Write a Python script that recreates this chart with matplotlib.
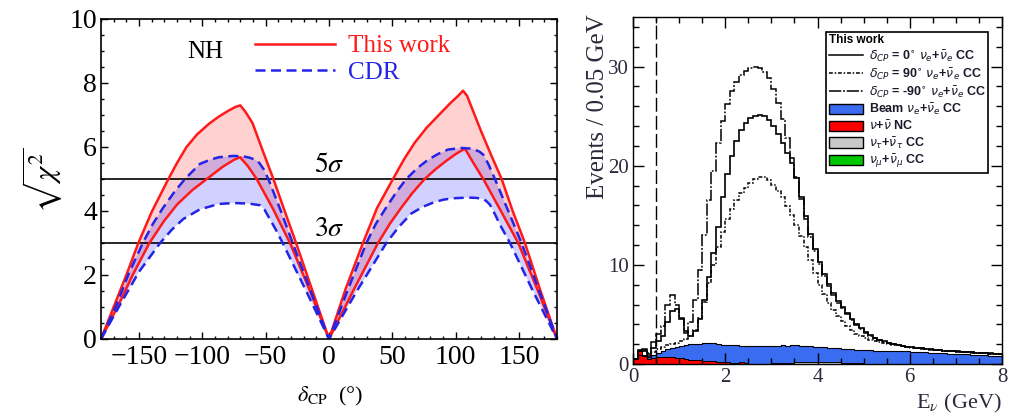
import numpy as np
import matplotlib
matplotlib.use("Agg")
import matplotlib.pyplot as plt
from matplotlib.lines import Line2D
from matplotlib.patches import Patch
from matplotlib.ticker import MultipleLocator

plt.rcParams['font.family'] = ['Liberation Serif', 'DejaVu Serif']
plt.rcParams['mathtext.fontset'] = 'stix'

# ---------------- left panel data: sqrt(chi^2) vs delta_CP ----------------
this_up_x = [-180, -170, -160, -150.5, -140, -126.8, -120, -112.5, -104, -94.6, -87, -80, -74, -70,
             -66, -60.4, -52, -43.9, -35, -26, -13, 0,
             13, 26.8, 38, 50.5, 59, 67.6, 77, 86, 96, 102, 105.8,
             109, 120, 128, 136.3, 145, 154.7, 167, 180]
this_up_y = [0, 1.0, 2.0, 3.0, 3.97, 5.0, 5.5, 6.0, 6.4, 6.73, 6.95, 7.12, 7.25, 7.3,
             7.1, 6.75, 5.85, 5.0, 4.0, 3.0, 1.5, 0,
             1.55, 3.0, 4.1, 5.0, 5.6, 6.13, 6.6, 6.97, 7.38, 7.6, 7.76,
             7.6, 6.5, 5.75, 5.0, 4.0, 3.0, 1.5, 0]
this_lo_x = [-180, -167, -155, -141.8, -130, -120, -108, -96.5, -84, -75, -70.2,
             -64, -57.1, -44, -30.8, -15, 0,
             19, 38.7, 48, 57, 66, 75.5, 84, 92, 100, 107.3,
             114, 121.8, 135, 149.4, 165, 180]
this_lo_y = [0, 1.0, 2.0, 3.0, 3.7, 4.2, 4.65, 5.0, 5.38, 5.6, 5.68,
             5.4, 5.0, 4.05, 3.0, 1.5, 0,
             1.5, 3.0, 3.6, 4.1, 4.57, 5.0, 5.3, 5.55, 5.78, 5.95,
             5.5, 5.0, 4.05, 3.0, 1.5, 0]
cdr_up_x = [-180, -168.5, -158, -147, -139, -131, -122, -113.7, -102, -94, -87, -76, -68, -63,
            -58, -55, -51.5, -47.9, -38, -28.7, -14, 0,
            14.5, 29.5, 37, 45, 53, 61, 70, 78.2, 86, 94, 104.5,
            112, 116, 119, 122, 126, 131, 141, 152, 166, 180]
cdr_up_y = [0, 1.0, 2.05, 3.0, 3.6, 4.1, 4.6, 5.0, 5.47, 5.6, 5.68, 5.72, 5.71, 5.67,
            5.6, 5.5, 5.3, 5.0, 4.0, 3.0, 1.45, 0,
            1.5, 3.0, 3.6, 4.1, 4.58, 5.0, 5.35, 5.6, 5.78, 5.92, 5.97,
            5.95, 5.9, 5.85, 5.75, 5.45, 5.0, 4.05, 3.0, 1.5, 0]
cdr_lo_x = [-180, -166, -150, -133.3, -124, -115, -102, -87, -75, -63, -54.5,
            -51, -47.9, -42, -36.6, -18, 0,
            22, 45.3, 55, 65, 74, 83.4, 91, 99.2, 109.7, 116, 121.8,
            124.5, 127, 131, 135, 142.9, 161, 180]
cdr_lo_y = [0, 1.0, 2.1, 3.0, 3.42, 3.75, 4.05, 4.22, 4.25, 4.23, 4.18,
            4.05, 3.83, 3.42, 3.0, 1.5, 0,
            1.5, 3.0, 3.5, 3.92, 4.13, 4.28, 4.36, 4.4, 4.42, 4.41, 4.38,
            4.3, 4.2, 3.9, 3.57, 3.0, 1.5, 0]
sigma_levels = [5, 3]
sigma_labels = [r'$5\sigma$', r'$3\sigma$']

# ---------------- right panel data: event spectra (0.1 GeV bins, 0..8 GeV) ----------------
E_min, E_max, n_bins = 0.0, 8.0, 80
dcp_m90 = [0.5, 1.3, 1.5, 1.1, 2.2, 3.0, 3.8, 6.0, 7.0, 6.0,
           4.6, 3.1, 4.2, 6.5, 9.5, 13.0, 16.5, 19.5, 22.3, 24.5,
           26.2, 27.5, 28.4, 29.1, 29.6, 29.9, 30.0, 29.9, 29.5, 28.8,
           27.7, 26.3, 24.7, 22.8, 20.8, 18.9, 16.6, 14.6, 12.8, 11.4,
           10.1, 8.9, 7.9, 7.0, 6.2, 5.6, 5.0, 4.4, 3.9, 3.5,
           3.15, 2.85, 2.6, 2.4, 2.25, 2.1, 2.0, 1.9, 1.82, 1.75,
           1.68, 1.62, 1.57, 1.52, 1.47, 1.43, 1.39, 1.35, 1.32, 1.29,
           1.26, 1.23, 1.2, 1.17, 1.14, 1.11, 1.08, 1.05, 1.02, 1.0]
dcp_0 = [0.5, 1.4, 1.3, 0.8, 1.6, 2.3, 2.8, 4.2, 5.3, 5.5,
         4.5, 3.3, 2.8, 3.3, 4.5, 6.5, 8.8, 11.2, 13.8, 16.8,
         19.2, 21.0, 22.5, 23.6, 24.3, 24.8, 25.0, 25.1, 25.0, 24.6,
         24.0, 23.2, 22.3, 21.3, 20.3, 18.8, 16.8, 14.9, 13.1, 11.6,
         10.3, 9.1, 8.1, 7.2, 6.4, 5.7, 5.1, 4.5, 4.0, 3.6,
         3.2, 2.9, 2.65, 2.45, 2.28, 2.13, 2.02, 1.92, 1.84, 1.76,
         1.7, 1.64, 1.58, 1.53, 1.48, 1.44, 1.4, 1.36, 1.33, 1.3,
         1.27, 1.24, 1.21, 1.18, 1.15, 1.12, 1.09, 1.06, 1.03, 1.0]
dcp_90 = [0.5, 1.3, 1.4, 1.0, 1.2, 1.5, 1.7, 1.9, 2.0, 2.1,
          2.3, 2.5, 2.8, 3.4, 4.6, 6.3, 8.2, 10.0, 11.8, 13.3,
          14.6, 15.6, 16.5, 17.2, 17.8, 18.3, 18.7, 18.9, 18.9, 18.6,
          18.1, 17.5, 16.8, 15.9, 15.0, 14.0, 12.9, 11.8, 10.5, 9.2,
          8.0, 7.1, 6.2, 5.4, 4.8, 4.3, 3.8, 3.4, 3.05, 2.8,
          2.6, 2.45, 2.33, 2.22, 2.12, 2.03, 1.95, 1.87, 1.8, 1.73,
          1.66, 1.6, 1.55, 1.5, 1.45, 1.41, 1.37, 1.33, 1.3, 1.27,
          1.24, 1.21, 1.18, 1.15, 1.12, 1.09, 1.06, 1.03, 1.0, 0.97]
nc_bkg = [0.5, 1.3, 0.9, 0.5, 0.6, 0.7, 0.7, 0.7, 0.7, 0.6,
          0.6, 0.5, 0.4, 0.45, 0.4, 0.35, 0.3, 0.3, 0.25, 0.2,
          0.2, 0.15, 0.15, 0.2, 0.1, 0.05, 0.05, 0.05, 0.05, 0.05] + [0.0] * 50
nutau_bkg = [0.0] * 30 + [0.05, 0.05, 0.1, 0.1, 0.1, 0.15, 0.15, 0.15, 0.2, 0.2,
                          0.2, 0.2, 0.15, 0.15, 0.15, 0.15, 0.15, 0.1, 0.1, 0.1] + [0.05] * 10 + [0.0] * 20
numu_bkg = [0.0] * 30 + [0.02] * 15 + [0.0] * 35
beam_stack_top = [0.5, 0.9, 0.8, 0.7, 0.9, 1.1, 1.3, 1.5, 1.6, 1.7,
                  1.8, 1.9, 2.0, 2.05, 2.05, 2.1, 2.15, 2.1, 2.0, 1.95,
                  1.9, 1.9, 1.9, 1.85, 1.85, 1.8, 1.8, 1.8, 1.8, 1.8,
                  1.8, 1.85, 1.9, 1.85, 1.9, 1.9, 1.85, 1.85, 1.8, 1.75,
                  1.7, 1.7, 1.65, 1.6, 1.6, 1.55, 1.5, 1.5, 1.45, 1.4,
                  1.4, 1.4, 1.35, 1.35, 1.3, 1.3, 1.3, 1.3, 1.3, 1.3,
                  1.25, 1.2, 1.2, 1.2, 1.15, 1.1, 1.1, 1.1, 1.05, 1.05,
                  1.0, 1.0, 1.0, 0.95, 0.95, 0.9, 0.9, 0.85, 0.85, 0.8]
E_cut = 0.5

# ---------------- figure ----------------
fig = plt.figure(figsize=(10.12, 4.16), dpi=100)
axL = fig.add_axes([101 / 1012, 1 - 339 / 416, 456 / 1012, 320 / 416])
axR = fig.add_axes([633 / 1012, 1 - 364 / 416, 369 / 1012, 347 / 416])

red = '#ff1a1a'
blue = '#2424e6'

# fills
axL.fill(np.r_[this_up_x, this_lo_x[::-1]], np.r_[this_up_y, this_lo_y[::-1]],
         color=(1, 0, 0, 0.18), lw=0)
axL.fill(np.r_[cdr_up_x, cdr_lo_x[::-1]], np.r_[cdr_up_y, cdr_lo_y[::-1]],
         color=(0, 0, 1, 0.18), lw=0)
for lv in sigma_levels:
    axL.axhline(lv, color='k', lw=1.2)
for lv, lab in zip(sigma_levels, sigma_labels):
    axL.text(-12, lv + 0.03, lab, fontsize=20, ha='left', va='bottom')
l1, = axL.plot(this_up_x, this_up_y, color=red, lw=1.8)
axL.plot(this_lo_x, this_lo_y, color=red, lw=1.8)
l2, = axL.plot(cdr_up_x, cdr_up_y, color=blue, lw=1.8, ls=(0, (4, 2.2)))
axL.plot(cdr_lo_x, cdr_lo_y, color=blue, lw=1.8, ls=(0, (4, 2.2)))

axL.set_xlim(-180, 180)
axL.set_ylim(0, 10)
axL.set_xticks([-150, -100, -50, 0, 50, 100, 150])
axL.set_yticks([0, 2, 4, 6, 8, 10])
axL.xaxis.set_minor_locator(MultipleLocator(10))
axL.yaxis.set_minor_locator(MultipleLocator(0.5))
axL.tick_params(which='both', direction='in', top=True, right=True, labelsize=20, width=1.0)
axL.tick_params(which='major', length=5)
axL.tick_params(which='minor', length=2.5)
axL.tick_params(axis='x', pad=4)
axL.tick_params(axis='y', pad=3)
for s in axL.spines.values():
    s.set_linewidth(1.2)

leg = axL.legend([l1, l2], ['This work', 'CDR'], loc='upper left',
                 bbox_to_anchor=(0.338, 0.95), frameon=False, fontsize=18,
                 handlelength=3.2, handletextpad=0.5, labelspacing=0.15,
                 borderpad=0, borderaxespad=0)
for t, c in zip(leg.get_texts(), [red, blue]):
    t.set_color(c)
axL.text(0.228, 0.897, 'NH', transform=axL.transAxes, fontsize=18, ha='center', va='center')

fig.text(42 / 1012, 1 - 180 / 416, r'$\sqrt{\chi^2}$', rotation=90, fontsize=22,
         ha='center', va='center')
fig.text(330 / 1012, 1 - 396 / 416, r'$\delta_{\rm CP}$  (°)', fontsize=16,
         ha='center', va='center')

# ---------------- right panel ----------------
edges = np.linspace(E_min, E_max, n_bins + 1)
nc = np.array(nc_bkg)
tau = np.array(nutau_bkg)
mu = np.array(numu_bkg)
top = np.array(beam_stack_top)
c_beam, c_nc, c_tau, c_mu = '#3a6cf2', '#ff0000', '#c8c8c8', '#00c800'

axR.stairs(top, edges, baseline=nc + tau + mu, fill=True, color=c_beam, lw=0)
axR.stairs(nc + tau + mu, edges, baseline=nc + tau, fill=True, color=c_mu, lw=0)
axR.stairs(nc + tau, edges, baseline=nc, fill=True, color=c_tau, lw=0)
axR.stairs(nc, edges, baseline=0, fill=True, color=c_nc, lw=0)
axR.stairs(top, edges, baseline=None, color='k', lw=0.8)
axR.stairs(nc, edges, baseline=None, color='#400000', lw=0.6)
axR.stairs(nc + tau + mu, edges, baseline=None, color='k', lw=0.7)

ls90 = (0, (2.5, 1.2, 1, 1.2))
lsm90 = (0, (8, 1.2, 1.2, 1.2))
axR.stairs(dcp_0, edges, baseline=None, color='k', lw=1.2)
axR.stairs(dcp_90, edges, baseline=None, color='k', lw=1.1, ls=ls90)
axR.stairs(dcp_m90, edges, baseline=None, color='k', lw=1.1, ls=lsm90)
axR.axvline(E_cut, color='k', lw=1.0, ls=(0, (10, 3)))

axR.set_xlim(E_min, E_max)
axR.set_ylim(0, 35)
axR.set_xticks([0, 2, 4, 6, 8])
axR.set_yticks([0, 10, 20, 30])
axR.xaxis.set_minor_locator(MultipleLocator(0.5))
axR.yaxis.set_minor_locator(MultipleLocator(2))
axR.tick_params(which='both', direction='in', top=True, right=True, labelsize=15,
                width=1.0, labelcolor='#2a2a3a')
axR.tick_params(axis='x', pad=3)
axR.tick_params(axis='y', pad=3)
axR.tick_params(which='major', length=8)
axR.tick_params(which='minor', length=4)
for s in axR.spines.values():
    s.set_linewidth(1.0)

handles = [Line2D([], [], color='k', lw=1.1),
           Line2D([], [], color='k', lw=1.1, ls=ls90),
           Line2D([], [], color='k', lw=1.1, ls=lsm90),
           Patch(facecolor=c_beam, edgecolor='k', lw=1),
           Patch(facecolor=c_nc, edgecolor='k', lw=1),
           Patch(facecolor=c_tau, edgecolor='k', lw=1),
           Patch(facecolor=c_mu, edgecolor='k', lw=1)]
labels = [r'$\delta_{CP}$ = 0$^{\circ}$ $\nu_e$+$\bar{\nu}_e$ CC',
          r'$\delta_{CP}$ = 90$^{\circ}$ $\nu_e$+$\bar{\nu}_e$ CC',
          r'$\delta_{CP}$ = -90$^{\circ}$ $\nu_e$+$\bar{\nu}_e$ CC',
          r'Beam $\nu_e$+$\bar{\nu}_e$ CC',
          r'$\nu$+$\bar{\nu}$ NC',
          r'$\nu_\tau$+$\bar{\nu}_\tau$ CC',
          r'$\nu_\mu$+$\bar{\nu}_\mu$ CC']
legR = axR.legend(handles, labels, loc='upper left', bbox_to_anchor=(0.524, 0.957),
                  title='This work', alignment='left',
                  prop={'family': 'Liberation Sans', 'weight': 'bold', 'size': 9,
                        'math_fontfamily': 'dejavusans'},
                  title_fontproperties={'family': 'Liberation Sans', 'weight': 'bold', 'size': 8.5},
                  frameon=True, fancybox=False, edgecolor='k', framealpha=1,
                  handlelength=2.7, handleheight=0.9, handletextpad=0.5,
                  labelspacing=0.17, borderpad=0.2, borderaxespad=0)
legR.get_frame().set_linewidth(1.2)
for t in legR.get_texts():
    t.set_color('#1a1a2a')

fig.text(598 / 1012, 1 - 14 / 416, 'Events / 0.05 GeV', rotation=90, fontsize=18,
         ha='center', va='top', color='#2a2a3a')
fig.text(1002 / 1012, 1 - 403 / 416, r'E$_{\nu}$ (GeV)', fontsize=16,
         ha='right', va='center', color='#2a2a3a')

fig.savefig('out.png', dpi=100)
